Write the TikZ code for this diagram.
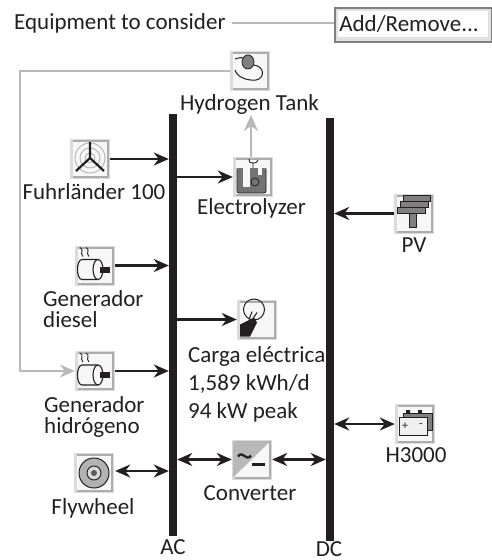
\documentclass[tikz,border=0pt]{standalone}
\usepackage{fontspec}
\setmainfont{Carlito}
\usetikzlibrary{arrows.meta}
\definecolor{ink}{HTML}{231F20}
\tikzset{
  iconbox/.style={rectangle,minimum size=40pt,inner sep=0pt,fill=black!14,
    path picture={
      \fill[black!32] ([xshift=3pt,yshift=1pt]path picture bounding box.south west) rectangle ([xshift=-1pt,yshift=-1pt]path picture bounding box.north east);
      \fill[black!3] ([xshift=3pt,yshift=3pt]path picture bounding box.south west) rectangle ([xshift=-3pt,yshift=-3pt]path picture bounding box.north east);
    }},
  lbl/.style={text=ink,font=\fontsize{23}{21}\selectfont,inner sep=0pt,align=left},
  bus/.style={rectangle,fill=ink,minimum width=8pt,inner sep=0pt},
  wire/.style={draw=ink,line width=2.4pt},
  feed/.style={draw=black!28,line width=1.5pt},
  onetip/.style={-{Stealth[length=15pt,width=13pt]}},
  bothtips/.style={{Stealth[length=15pt,width=13pt]}-{Stealth[length=15pt,width=13pt]}},
}
\begin{document}
\begin{tikzpicture}[x=1pt,y=-1pt]
\useasboundingbox (0,0) rectangle (492,560);

% Buses
\node[bus,minimum height=422pt] (acbus) at (173,325) {};
\node[bus,minimum height=423pt] (dcbus) at (330,329.5) {};
\node[lbl] (aclabel) at (173,547) {AC};
\node[lbl] (dclabel) at (329,549.5) {DC};

% Equipment boxes
\node[iconbox] (tank) at (250,71) {};
\node[iconbox] (wind) at (90,159) {};
\node[iconbox] (diesel) at (95,265.5) {};
\node[iconbox] (hydrogen) at (95,371) {};
\node[iconbox] (flywheel) at (94,473) {};
\node[iconbox] (electrolyzer) at (253,177) {};
\node[iconbox] (pv) at (414,213.5) {};
\node[iconbox] (load) at (257,319.5) {};
\node[iconbox] (converter) at (252,459.5) {};
\node[iconbox] (battery) at (415,424) {};

% Header
\node[lbl,anchor=west] (header) at (14,23) {Equipment to consider};
\node[rectangle,minimum width=158pt,minimum height=36pt,inner sep=0pt,fill=black!50,
  path picture={
    \fill[black!12] ([xshift=1.5pt,yshift=2pt]path picture bounding box.south west) rectangle ([xshift=-1.5pt,yshift=-1.5pt]path picture bounding box.north east);
    \fill[white] ([xshift=4pt,yshift=6pt]path picture bounding box.south west) rectangle ([xshift=-4pt,yshift=-4pt]path picture bounding box.north east);
  }] (addbutton) at (413,25) {};
\node[lbl] (addlabel) at (409,24) {Add/Remove...};
\draw[feed,line width=2pt] (header.east) ++(6pt,0) -- (addbutton.west |- header.east);

% Labels
\node[lbl] (tanklabel) at (249.5,104) {Hydrogen Tank};
\node[lbl] (windlabel) at (94,192) {Fuhrländer 100};
\node[lbl] (electrolyzerlabel) at (251.5,208.5) {Electrolyzer};
\node[lbl,anchor=west] (diesellabel) at (43,309) {Generador\\diesel};
\node[lbl,anchor=west] (hydrogenlabel) at (44,416.5) {Generador\\hidrógeno};
\node[lbl] (flywheellabel) at (93,508) {Flywheel};
\node[lbl] (pvlabel) at (414,245) {PV};
\node[lbl,anchor=west,align=left] (loadlabel) at (188,384) {Carga eléctrica\\[7pt]1,589 kWh/d\\[7pt]94 kW peak};
\node[lbl] (converterlabel) at (250,493) {Converter};
\node[lbl] (batterylabel) at (416,455) {H3000};

% Connectors
\draw[wire,onetip] (wind.east) -- (wind.east -| acbus.west);
\draw[wire,onetip] (diesel.east) -- (diesel.east -| acbus.west);
\draw[wire,onetip] (hydrogen.east) -- (hydrogen.east -| acbus.west);
\draw[wire,bothtips] (flywheel.east) ++(1pt,2pt) -- ([yshift=2pt]flywheel.east -| acbus.west);
\draw[wire,onetip] (electrolyzer.west -| acbus.east) -- (electrolyzer.west);
\draw[wire,onetip] (load.west -| acbus.east) -- (load.west);
\draw[wire,bothtips] (converter.west -| acbus.east) -- (converter.west);
\draw[wire,bothtips] (converter.east) -- (converter.east -| dcbus.west);
\draw[wire,onetip] (pv.west) -- (pv.west -| dcbus.east);
\draw[wire,bothtips] (battery.west -| dcbus.east) -- (battery.west);

% Hydrogen loop
\coordinate (loopcorner) at (20,71);
\coordinate (tanktip) at (251,115);
\draw[feed,onetip] (tank.west) -- (loopcorner) |- (hydrogen.west);
\draw[feed,line width=2.4pt,-{Stealth[length=16pt,width=14pt]}] (tanktip |- electrolyzer.north) -- (tanktip);

% Wind icon
\begin{scope}[shift={(wind)}]
\draw[black!30,line width=0.9pt] (0,-1) circle (15) circle (10) circle (5);
\draw[ink,line width=2.2pt] (0,-17) -- (0,-1) -- (-14,12) (0,-1) -- (14,12);
\end{scope}

% Generator icons
\foreach \gen in {diesel,hydrogen}{
\begin{scope}[shift={(\gen)}]
\draw[ink,line width=1.1pt,fill=black!3] (3,-6) -- (-13,-6) .. controls (-19,-6) and (-19,14) .. (-13,14) -- (3,14);
\draw[ink,line width=1.1pt,fill=black!3] (3,4) ellipse (5 and 10);
\fill[ink] (5,1) rectangle (15,7);
\draw[ink,line width=0.9pt] (-15,-18) .. controls (-10,-15) and (-16,-13) .. (-12,-9);
\draw[ink,line width=0.9pt] (-9,-18) .. controls (-4,-15) and (-10,-13) .. (-6,-9);
\end{scope}
}

% Tank icon
\begin{scope}[shift={(tank)}]
\draw[ink,line width=1pt] (-15,-12) .. controls (-8,-14) .. (-6,-12);
\draw[ink,line width=1pt] (4,-6) .. controls (16,-4) and (14,8) .. (6,9) .. controls (-3,10) and (-13,6) .. (-15,-1);
\draw[ink,line width=0.8pt,fill=black!50] (-2,-9) ellipse (6 and 7);
\end{scope}

% Flywheel icon
\begin{scope}[shift={(flywheel)}]
\draw[ink,line width=1pt,fill=black!30] (0,0) circle (15);
\draw[ink,line width=0.9pt,fill=black!15] (0,0) circle (7);
\fill[black!65] (0,0) circle (3);
\end{scope}

% Electrolyzer icon
\begin{scope}[shift={(electrolyzer)}]
\fill[black!55,rounded corners=2pt] (-16,-9) rectangle (13,16);
\draw[ink,line width=0.8pt,rounded corners=2pt] (-16,-9) -- (-16,16) -- (13,16) -- (13,-9);
\fill[black!3] (-10,-15) rectangle (-3,10);
\fill[black!3] (5,-15) rectangle (9,-2);
\draw[ink,line width=0.8pt] (2,5) circle (4);
\draw[ink,line width=0.9pt] (0,-9) -- (0,-14) (-4,-18) .. controls (-3,-14) .. (0,-14) .. controls (3,-14) .. (5,-17);
\end{scope}

% PV icon
\begin{scope}[shift={(pv)}]
\draw[ink,line width=0.8pt,fill=black!50] (-5,0) rectangle (2,14);
\draw[ink,line width=0.8pt,fill=black!50] (-11,-18) rectangle (16,-12.5);
\draw[ink,line width=0.8pt,fill=black!50] (-14,-12.5) rectangle (14,-6.5);
\draw[ink,line width=0.8pt,fill=black!50] (-17,-6.5) rectangle (11,0);
\end{scope}

% Load icon
\begin{scope}[shift={(load)}]
\draw[ink,line width=1pt] (-3,-10) circle (10.5);
\fill[ink] (-17,5) -- (-3,-2) -- (0,3) -- (-7,17) -- (-17,17) -- cycle;
\draw[ink,line width=1pt] (-8,0) -- (-5,-8) (-4,-1) -- (0,-7);
\end{scope}

% Converter icon
\begin{scope}[shift={(converter)}]
\fill[black!28] (-19,-18) -- (18,-18) -- (-19,18) -- cycle;
\draw[ink,line width=2.2pt] (-14,-3) .. controls (-9,-10) and (-6,3) .. (-1,-4);
\draw[ink,line width=2.4pt] (0,5) -- (13,5);
\end{scope}

% Battery icon
\begin{scope}[shift={(battery)}]
\fill[ink] (-9,-14) rectangle (-5,-11) (3,-14) rectangle (7,-11);
\draw[ink,line width=0.6pt,fill=black!50] (-12,-11) rectangle (17,6);
\draw[ink,line width=0.8pt,fill=black!6] (-16,-7) rectangle (12,11);
\node[text=ink,font=\fontsize{12}{12}\selectfont,inner sep=0pt] (plus) at (-10,2) {+};
\node[text=ink,font=\fontsize{12}{12}\selectfont,inner sep=0pt] (minus) at (6,2) {-};
\end{scope}
\end{tikzpicture}
\end{document}
